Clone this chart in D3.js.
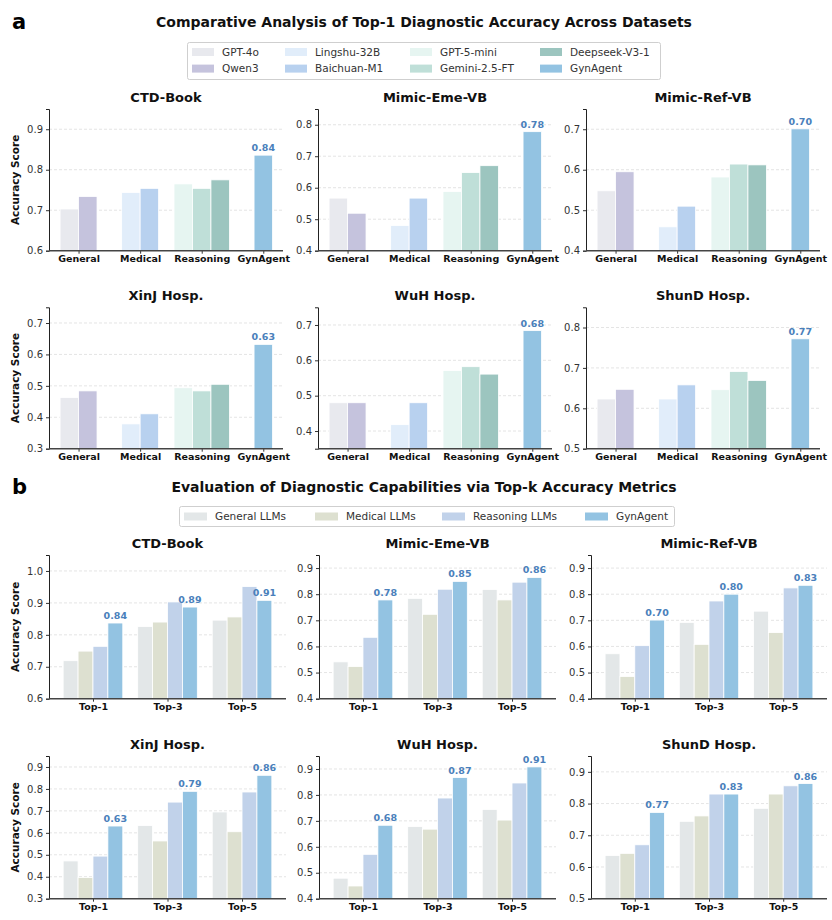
<!DOCTYPE html>
<html>
<head>
<meta charset="utf-8">
<script src="https://cdn.jsdelivr.net/npm/d3@7"></script>
<style>
  body { margin: 0; background: #fff; }
  svg { font-family: "DejaVu Sans", sans-serif; }
</style>
</head>
<body>
<svg id="canvas" width="832" height="920"></svg>
<script>
// ---- data: panel a (Top-1 by model) ----
var aDatasets = ["CTD-Book", "Mimic-Eme-VB", "Mimic-Ref-VB", "XinJ Hosp.", "WuH Hosp.", "ShunD Hosp."];
var aModels = ["GPT-4o", "Qwen3", "Lingshu-32B", "Baichuan-M1", "GPT-5-mini", "Gemini-2.5-FT", "Deepseek-V3-1", "GynAgent"];
var aGroups = ["General", "Medical", "Reasoning", "GynAgent"];
var aModelGroup = [0, 0, 1, 1, 2, 2, 2, 3];
var aColors = ["#e8e9ee", "#c5c3dd", "#e1edfa", "#b8d1ef", "#e6f5f1", "#bfdfd8", "#9cc5bf", "#93c3e2"];
var aValues = [
	[0.703, 0.734, 0.744, 0.754, 0.765, 0.754, 0.775, 0.836],
	[0.567, 0.519, 0.480, 0.567, 0.588, 0.648, 0.670, 0.778],
	[0.548, 0.595, 0.459, 0.510, 0.582, 0.614, 0.612, 0.701],
	[0.463, 0.484, 0.379, 0.411, 0.494, 0.484, 0.505, 0.632],
	[0.480, 0.480, 0.418, 0.480, 0.571, 0.582, 0.561, 0.684],
	[0.623, 0.647, 0.623, 0.658, 0.646, 0.691, 0.669, 0.772]
];
var aDomains = [[0.6, 0.95], [0.4, 0.85], [0.4, 0.75], [0.3, 0.75], [0.35, 0.75], [0.5, 0.85]];

// ---- data: panel b (Top-k by model family) ----
var bDatasets = aDatasets;
var bMetrics = ["Top-1", "Top-3", "Top-5"];
var bSeries = ["General LLMs", "Medical LLMs", "Reasoning LLMs", "GynAgent"];
var bColors = ["#e3e7e8", "#dde0d0", "#c1d2ea", "#93c3e2"];
// bValues[dataset][series][metric]
var bValues = [
	[[0.719, 0.826, 0.846], [0.749, 0.840, 0.856], [0.764, 0.903, 0.951], [0.837, 0.887, 0.908]],
	[[0.541, 0.784, 0.818], [0.523, 0.723, 0.778], [0.635, 0.819, 0.846], [0.778, 0.849, 0.864]],
	[[0.572, 0.692, 0.735], [0.485, 0.608, 0.653], [0.603, 0.774, 0.824], [0.701, 0.800, 0.834]],
	[[0.472, 0.633, 0.695], [0.396, 0.563, 0.605], [0.494, 0.740, 0.786], [0.631, 0.789, 0.862]],
	[[0.479, 0.678, 0.744], [0.449, 0.668, 0.703], [0.571, 0.788, 0.846], [0.683, 0.867, 0.908]],
	[[0.636, 0.744, 0.785], [0.643, 0.761, 0.830], [0.670, 0.830, 0.856], [0.772, 0.830, 0.863]]
];
var bDomains = [[0.6, 1.05], [0.4, 0.95], [0.4, 0.95], [0.3, 0.95], [0.4, 0.95], [0.5, 0.95]];

var labelBlue = "#4a80bb";
var svg = d3.select("#canvas");

// ---- layout ----
var aCols = [[49, 283], [318, 552], [586, 820]];
var aRows = [[109, 250.7], [307.3, 448.7]];
var bCols = [[49, 286], [319, 556], [591, 827]];
var bRows = [[555, 698.7], [756, 898.7]];

// ticks every 0.1 inside the domain
function tenths(domain) {
	return d3.range(Math.ceil(domain[0] * 10 - 1e-6), Math.floor(domain[1] * 10 + 1e-6) + 1)
		.map(v => v / 10);
}

function frame(g, x0, x1, y, title, showYLabel) {
	var ticks = tenths(y.domain());
	var gridTicks = ticks.filter(t => t > y.domain()[0] + 1e-6);
	g.append("g").selectAll("line").data(gridTicks).enter()
		.append("line")
		.attr("x1", x0).attr("x2", x1)
		.attr("y1", d => y(d)).attr("y2", d => y(d))
		.attr("stroke", "#d9d9d9").attr("stroke-width", 0.7)
		.attr("stroke-dasharray", "3,2");

	var yAxis = d3.axisLeft(y).tickValues(ticks)
		.tickSize(3).tickFormat(d3.format(".1f"));
	var ya = g.append("g").attr("transform", "translate(" + x0 + ",0)").call(yAxis);
	ya.select(".domain").attr("stroke", "#222").attr("stroke-width", 1);
	ya.selectAll(".tick line").attr("stroke", "#333");
	ya.selectAll(".tick text").attr("font-size", 10).attr("fill", "#333")
		.attr("font-family", "DejaVu Sans");

	g.append("text")
		.attr("x", (x0 + x1) / 2).attr("y", y.range()[1] - 7)
		.attr("text-anchor", "middle")
		.attr("font-size", 13).attr("font-weight", "bold").attr("fill", "#111")
		.text(title);

	if (showYLabel) {
		var cy = (y.range()[0] + y.range()[1]) / 2;
		g.append("text")
			.attr("transform", "translate(19," + cy + ") rotate(-90)")
			.attr("text-anchor", "middle")
			.attr("font-size", 10.5).attr("font-weight", "bold").attr("fill", "#111")
			.text("Accuracy Score");
	}
}

function bottomAxis(g, x0, x1, yBase, x, labels) {
	var xAxis = d3.axisBottom(x).tickValues(d3.range(labels.length))
		.tickSize(3).tickFormat(i => labels[i]);
	var xa = g.append("g").attr("transform", "translate(0," + yBase + ")").call(xAxis);
	xa.select(".domain").remove();
	xa.selectAll(".tick line").attr("stroke", "#333");
	xa.selectAll(".tick text").attr("font-size", 9.5).attr("font-weight", "bold")
		.attr("fill", "#111").attr("font-family", "DejaVu Sans").attr("dy", "0.6em");
	g.append("line").attr("x1", x0).attr("x2", x1)
		.attr("y1", yBase).attr("y2", yBase)
		.attr("stroke", "#444").attr("stroke-width", 1.5);
}

// ---- panel a ----
svg.append("text").attr("x", 12).attr("y", 29)
	.attr("font-size", 21).attr("font-weight", "bold").text("a");
svg.append("text").attr("x", 424).attr("y", 27).attr("text-anchor", "middle")
	.attr("font-size", 14).attr("font-weight", "bold").attr("fill", "#111")
	.text("Comparative Analysis of Top-1 Diagnostic Accuracy Across Datasets");

var aLeg = svg.append("g");
aLeg.append("rect").attr("x", 187.5).attr("y", 42.5).attr("width", 473).attr("height", 37)
	.attr("rx", 2).attr("fill", "#fff").attr("stroke", "#cfcfcf");
var aLegX = [192, 285, 410, 540];
aModels.forEach(function (m, i) {
	var col = Math.floor(i / 2), row = i % 2;
	var cy = 52 + row * 16.6;
	aLeg.append("rect").attr("x", aLegX[col]).attr("y", cy - 4).attr("width", 22).attr("height", 8)
		.attr("fill", aColors[i]);
	aLeg.append("text").attr("x", aLegX[col] + 30).attr("y", cy).attr("dy", "0.35em")
		.attr("font-size", 10.5).attr("fill", "#333").text(m);
});

aDatasets.forEach(function (name, di) {
	var col = aCols[di % 3], row = aRows[Math.floor(di / 3)];
	var g = svg.append("g");
	var x = d3.scaleLinear().domain([-0.48, 3.32]).range(col);
	var y = d3.scaleLinear().domain(aDomains[di]).range([row[1], row[0]]);
	frame(g, col[0], col[1], y, name, di % 3 === 0);

	var bars = aModels.map(function (m, mi) {
		var grp = aModelGroup[mi];
		var members = aModelGroup.map((gg, k) => gg === grp ? k : -1).filter(k => k >= 0);
		var pos = members.indexOf(mi) - (members.length - 1) / 2;
		return {model: m, value: aValues[di][mi], cx: grp + pos * 0.3, color: aColors[mi]};
	});
	var w = x(0.3) - x(0);
	g.selectAll("rect.bar").data(bars).enter()
		.append("rect").attr("class", "bar")
		.attr("x", d => x(d.cx) - w / 2).attr("width", w)
		.attr("y", d => y(d.value)).attr("height", d => y.range()[0] - y(d.value))
		.attr("fill", d => d.color).attr("stroke", "#fff").attr("stroke-width", 0.8);

	var best = bars[bars.length - 1];
	g.append("text").attr("x", x(best.cx)).attr("y", y(best.value) - 4)
		.attr("text-anchor", "middle").attr("font-size", 9.5).attr("font-weight", "bold")
		.attr("fill", labelBlue).text(best.value.toFixed(2));

	bottomAxis(g, col[0], col[1], row[1], x, aGroups);
});

// ---- panel b ----
svg.append("text").attr("x", 12).attr("y", 494)
	.attr("font-size", 21).attr("font-weight", "bold").text("b");
svg.append("text").attr("x", 424).attr("y", 492).attr("text-anchor", "middle")
	.attr("font-size", 14).attr("font-weight", "bold").attr("fill", "#111")
	.text("Evaluation of Diagnostic Capabilities via Top-k Accuracy Metrics");

var bLeg = svg.append("g");
bLeg.append("rect").attr("x", 179.5).attr("y", 506.5).attr("width", 495).attr("height", 20)
	.attr("rx", 2).attr("fill", "#fff").attr("stroke", "#cfcfcf");
var bLegX = [184, 315, 442, 585];
bSeries.forEach(function (s, i) {
	bLeg.append("rect").attr("x", bLegX[i]).attr("y", 512.5).attr("width", 23).attr("height", 8)
		.attr("fill", bColors[i]);
	bLeg.append("text").attr("x", bLegX[i] + 31).attr("y", 516.5).attr("dy", "0.35em")
		.attr("font-size", 10.5).attr("fill", "#333").text(s);
});

bDatasets.forEach(function (name, di) {
	var col = bCols[di % 3], row = bRows[Math.floor(di / 3)];
	var g = svg.append("g");
	var x = d3.scaleLinear().domain([-0.59, 2.59]).range(col);
	var y = d3.scaleLinear().domain(bDomains[di]).range([row[1], row[0]]);
	frame(g, col[0], col[1], y, name, di % 3 === 0);

	var w = x(0.2) - x(0);
	bSeries.forEach(function (s, si) {
		var data = bMetrics.map((m, mi) => ({metric: mi, value: bValues[di][si][mi]}));
		var off = (si - 1.5) * 0.2;
		g.selectAll("rect.s" + si).data(data).enter()
			.append("rect").attr("class", "s" + si)
			.attr("x", d => x(d.metric + off) - w / 2).attr("width", w)
			.attr("y", d => y(d.value)).attr("height", d => y.range()[0] - y(d.value))
			.attr("fill", bColors[si]).attr("stroke", "#fff").attr("stroke-width", 0.8);
		if (si === bSeries.length - 1) {
			g.selectAll("text.v").data(data).enter()
				.append("text").attr("class", "v")
				.attr("x", d => x(d.metric + off)).attr("y", d => y(d.value) - 4)
				.attr("text-anchor", "middle").attr("font-size", 9.5).attr("font-weight", "bold")
				.attr("fill", labelBlue).text(d => d.value.toFixed(2));
		}
	});

	bottomAxis(g, col[0], col[1], row[1], x, bMetrics);
});
</script>
</body>
</html>
